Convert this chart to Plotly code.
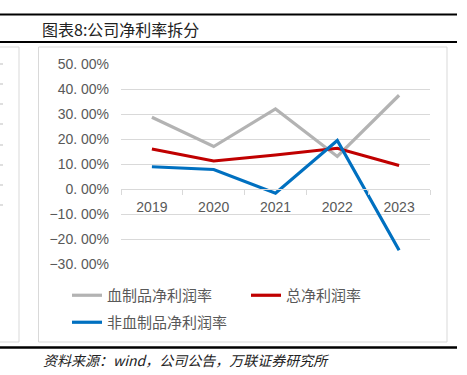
import plotly.graph_objects as go

years = ["2019", "2020", "2021", "2022", "2023"]
blood_margin = [28.7, 17.0, 32.0, 13.0, 37.5]
total_margin = [16.0, 11.2, 13.6, 16.3, 9.4]
nonblood_margin = [8.9, 7.8, -1.7, 19.4, -24.5]
y_ticks = [50, 40, 30, 20, 10, 0, -10, -20, -30]
y_tick_text = ["50. 00%", "40. 00%", "30. 00%", "20. 00%", "10. 00%", "0. 00%",
               "−10. 00%", "−20. 00%", "−30. 00%"]
names = ["血制品净利润率", "总净利润率", "非血制品净利润率"]
colors = ["#B3B3B3", "#C00000", "#0070C0"]

W, H = 467, 375
ML, MR, MT, MB = 121, 37, 64, 111
PW, PH = W - ML - MR, H - MT - MB
YMIN, YMAX = -30, 50


def px(x):
    return (x - ML) / PW


def py(y):
    return (H - MB - y) / PH


fig = go.Figure()
series = [blood_margin, total_margin, nonblood_margin]
legends = ["legend", "legend", "legend2"]
for name, vals, col, lg in zip(names, series, colors, legends):
    fig.add_trace(go.Scatter(x=years, y=vals, name=name, mode="lines",
                             line=dict(color=col, width=3.2), legend=lg))

shapes = []
# header / footer rules
for yy, wd in [(14.5, 2.2), (42, 2.2), (347.5, 2.6)]:
    shapes.append(dict(type="line", xref="paper", yref="paper", x0=px(0), x1=px(457),
                       y0=py(yy), y1=py(yy), line=dict(color="#000000", width=wd), layer="above"))
# chart frame
shapes.append(dict(type="rect", xref="paper", yref="paper", x0=px(38.5), x1=px(447),
                   y0=py(47), y1=py(342), line=dict(color="#D9D9D9", width=1), layer="below"))
# neighbouring chart fragment
shapes.append(dict(type="rect", xref="paper", yref="paper", x0=px(-5), x1=px(19),
                   y0=py(47), y1=py(342), line=dict(color="#D9D9D9", width=1), layer="below"))
for yy in [64, 84, 104, 124, 145, 165, 185, 205]:
    shapes.append(dict(type="line", xref="paper", yref="paper", x0=px(0), x1=px(3),
                       y0=py(yy), y1=py(yy), line=dict(color="#BFBFBF", width=1)))

fig.update_layout(
    width=W, height=H,
    margin=dict(l=ML, r=MR, t=MT, b=MB),
    paper_bgcolor="white", plot_bgcolor="white",
    shapes=shapes,
    showlegend=True,
    xaxis=dict(type="category", anchor="free", position=(0 - YMIN) / (YMAX - YMIN),
               showline=True, linecolor="#D9D9D9", linewidth=1,
               ticks="outside", tickson="boundaries", ticklen=5, tickcolor="#D9D9D9",
               ticklabelstandoff=5,
               showgrid=False, range=[-0.5, 4.5],
               tickfont=dict(family="Liberation Sans, Arial", size=14, color="#595959")),
    yaxis=dict(range=[YMIN, YMAX], tickvals=y_ticks, ticktext=y_tick_text,
               showgrid=True, gridcolor="#D9D9D9", gridwidth=1, zeroline=False,
               showline=False, ticks="", ticklabelstandoff=11,
               tickfont=dict(family="Liberation Sans, Arial", size=14, color="#595959")),
    legend=dict(orientation="h", x=px(67), xanchor="left", y=py(279), yanchor="top",
                entrywidth=134, entrywidthmode="pixels",
                font=dict(family="Noto Sans CJK SC", size=15, color="#595959"),
                bgcolor="rgba(0,0,0,0)"),
    legend2=dict(orientation="h", x=px(67), xanchor="left", y=py(306), yanchor="top",
                 font=dict(family="Noto Sans CJK SC", size=15, color="#595959"),
                 bgcolor="rgba(0,0,0,0)"),
    annotations=[
        dict(text="图表8:公司净利率拆分", xref="paper", yref="paper", x=px(40), y=py(29),
             xanchor="left", yanchor="middle", showarrow=False,
             font=dict(family="Noto Sans CJK SC", size=16, color="#222222")),
        dict(text="资料来源：wind，公司公告，万联证券研究所", xref="paper", yref="paper",
             x=px(41), y=py(360), xanchor="left", yanchor="middle", showarrow=False,
             font=dict(family="Noto Sans CJK SC", size=14, color="#222222", style="italic")),
    ],
)

fig.write_html("out.html", config={"displayModeBar": False},
               post_script="document.body.style.margin='0';document.body.style.overflow='hidden';")
